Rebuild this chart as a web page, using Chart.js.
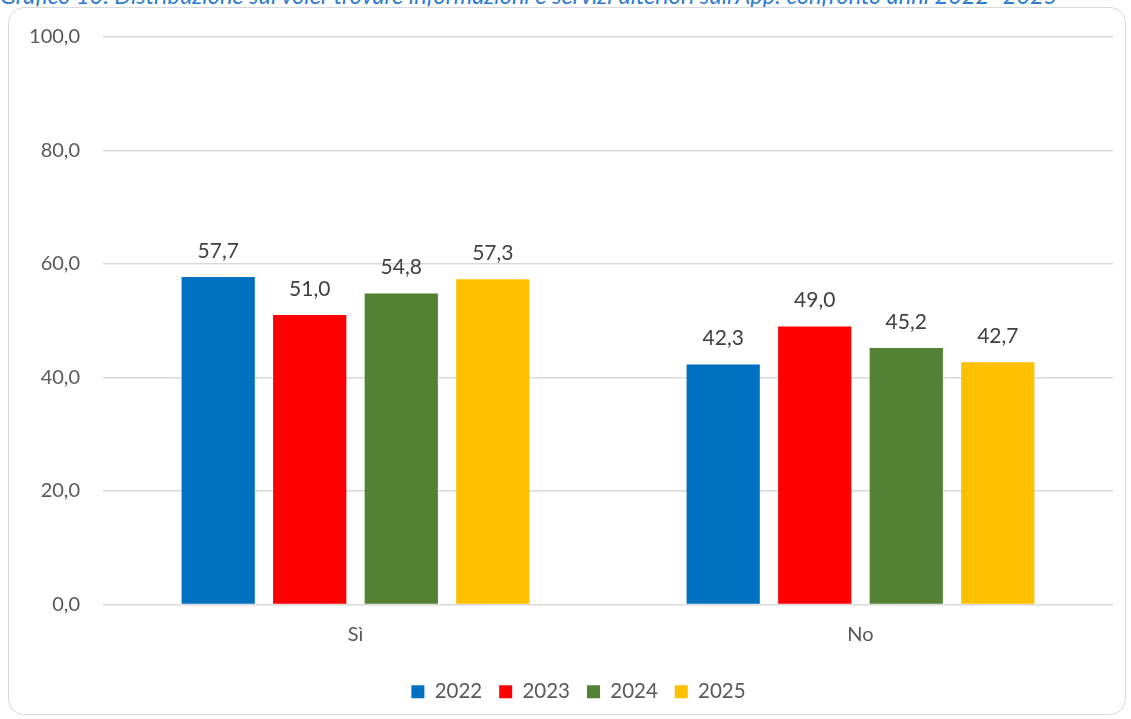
<!DOCTYPE html>
<html><head><meta charset="utf-8">
<script src="https://cdn.jsdelivr.net/npm/chart.js@4.4.1/dist/chart.umd.min.js"></script>
<style>
html,body{margin:0;padding:0;width:1131px;height:719px;overflow:hidden;background:#fff;font-family:Lato,"Noto Sans",sans-serif;}
#title{position:absolute;left:0;top:-19px;white-space:nowrap;font-style:italic;font-size:23.5px;color:#2E7BD0;font-family:Lato,"Noto Sans",sans-serif;}
#frame{position:absolute;left:8px;top:7px;width:1118px;height:708px;border:1.5px solid #d9d9d9;border-radius:16px;box-sizing:border-box;background:#fff;}
#wrap{position:absolute;left:0;top:0;width:1131px;height:719px;}
</style></head>
<body>
<div id="title">Grafico 10: Distribuzione sul voler trovare informazioni e servizi ulteriori sull'App: confronto anni 2022- 2025</div>
<div id="frame"></div>
<div id="wrap"><canvas id="c" width="1131" height="719"></canvas></div>
<script>
const categories = ["Sì", "No"];
const years = ["2022", "2023", "2024", "2025"];
const values2022 = [57.7, 42.3];
const values2023 = [51.0, 49.0];
const values2024 = [54.8, 45.2];
const values2025 = [57.3, 42.7];
const yTicks = [0, 20, 40, 60, 80, 100];
const colors = ["#0070C0", "#FF0000", "#548235", "#FFC000"];
const series = [values2022, values2023, values2024, values2025];

const FONT = 'Lato, "Noto Sans", sans-serif';
const fmt = v => v.toFixed(1).replace('.', ',');

const labelPlugin = {
  id: 'barLabels',
  afterLayout(chart) {
    if (chart.legend) { chart.legend.left += 22; chart.legend.right += 22; }
  },
  afterDatasetsDraw(chart) {
    const ctx = chart.ctx;
    ctx.save();
    ctx.font = '21px ' + FONT;
    ctx.fillStyle = '#404040';
    ctx.textAlign = 'center';
    ctx.textBaseline = 'middle';
    chart.data.datasets.forEach((ds, i) => {
      chart.getDatasetMeta(i).data.forEach((bar, j) => {
        ctx.fillText(fmt(ds.data[j]), bar.x, bar.y - 26);
      });
    });
    ctx.restore();
  }
};

new Chart(document.getElementById('c'), {
  type: 'bar',
  data: {
    labels: categories,
    datasets: years.map((y, i) => ({
      label: y,
      data: series[i],
      backgroundColor: colors[i],
      borderWidth: 0,
      barPercentage: 0.8,
      categoryPercentage: 0.725
    }))
  },
  options: {
    responsive: false,
    animation: false,
    layout: { padding: { top: 37, right: 18, bottom: 7, left: 0 } },
    plugins: {
      legend: {
        position: 'bottom',
        labels: {
          font: { size: 20.5, family: FONT },
          color: '#595959',
          boxWidth: 13, boxHeight: 13, padding: 17
        }
      },
      tooltip: { enabled: false }
    },
    scales: {
      x: {
        grid: { display: false },
        border: { display: false },
        ticks: { color: '#595959', font: { size: 20, family: FONT }, padding: 10 },
        afterFit(s) { s.height = 60; }
      },
      y: {
        min: 0, max: 100,
        afterBuildTicks(s) { s.ticks = yTicks.map(v => ({ value: v })); },
        grid: { color: '#d9d9d9', lineWidth: 1.5, drawTicks: false },
        border: { display: false },
        ticks: { color: '#595959', font: { size: 20, family: FONT }, padding: 23, callback: v => fmt(v) },
        afterFit(s) { s.width = 103; }
      }
    }
  },
  plugins: [labelPlugin]
});
</script>
</body></html>
